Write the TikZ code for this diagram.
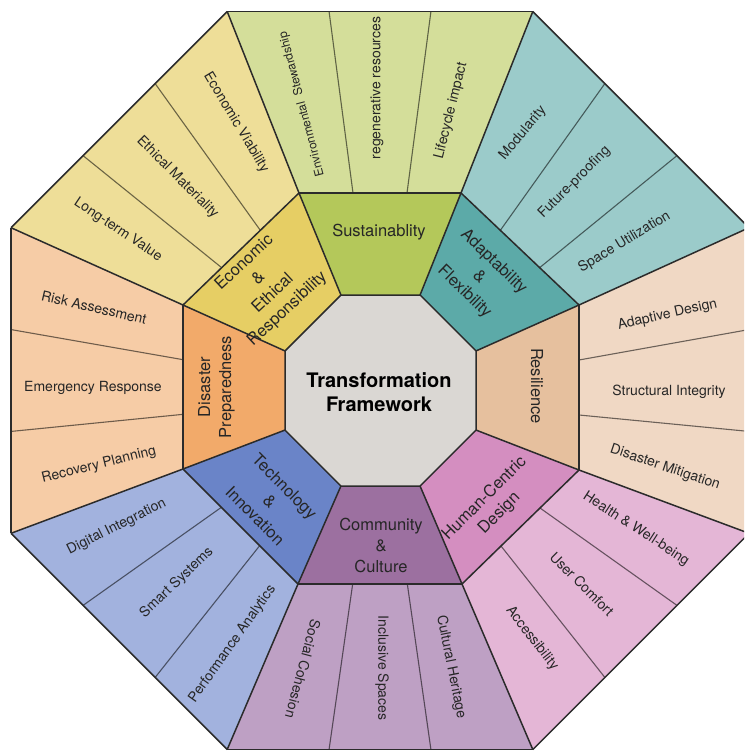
\documentclass[tikz,border=0pt]{standalone}
\usepackage{fontspec}
\setmainfont{TeX Gyre Heros}
\usetikzlibrary{calc}
\definecolor{edgec}{HTML}{2B2B2B}
\definecolor{txt}{HTML}{262626}
\definecolor{centergray}{HTML}{DAD7D3}
\definecolor{midS}{HTML}{B4C85A}\definecolor{outS}{HTML}{D4DE9A}
\definecolor{midE}{HTML}{E6CE64}\definecolor{outE}{HTML}{EEDE98}
\definecolor{midA}{HTML}{5CAAA8}\definecolor{outA}{HTML}{9BCBCA}
\definecolor{midR}{HTML}{E6C09E}\definecolor{outR}{HTML}{F0D8C4}
\definecolor{midH}{HTML}{D48EC0}\definecolor{outH}{HTML}{E4B6D6}
\definecolor{midC}{HTML}{9C70A0}\definecolor{outC}{HTML}{BEA0C4}
\definecolor{midT}{HTML}{6A84C8}\definecolor{outT}{HTML}{A2B2DE}
\definecolor{midD}{HTML}{F2AA6A}\definecolor{outD}{HTML}{F6CCA6}
\begin{document}
\begin{tikzpicture}[x=1pt,y=-1pt,
  edge/.style={draw=edgec, line width=1.5pt, line join=round},
  divider/.style={draw=black, draw opacity=0.55, line width=1.1pt},
  midlbl/.style={inner sep=0pt, align=center, text=txt, font=\fontsize{16.5}{21}\selectfont},
  outlbl/.style={inner sep=0pt, align=center, text=txt, font=\fontsize{14}{17}\selectfont},
  smalllbl/.style={inner sep=0pt, align=center, text=txt, font=\fontsize{12}{14}\selectfont},
  centerlbl/.style={inner sep=0pt, align=center, text=black, font=\fontsize{20}{24}\selectfont\bfseries}]
\fill[white] (0,0) rectangle (744,752);
\clip (0,0) rectangle (744,752);
% inner octagon
\coordinate (i1) at (420.06,295);   \coordinate (i2) at (476,350.94);
\coordinate (i3) at (476,430.06);   \coordinate (i4) at (420.06,486);
\coordinate (i5) at (340.94,486);   \coordinate (i6) at (285,430.06);
\coordinate (i7) at (285,350.94);   \coordinate (i8) at (340.94,295);
% middle octagon
\coordinate (m1) at (461,193); \coordinate (m2) at (579,305);
\coordinate (m3) at (579,470); \coordinate (m4) at (462,584);
\coordinate (m5) at (298,584); \coordinate (m6) at (183,469);
\coordinate (m7) at (183,305); \coordinate (m8) at (299,193);
% outer octagon
\coordinate (o1) at (532.8,11.5);  \coordinate (o2) at (749,227.7);
\coordinate (o3) at (749,533.3);   \coordinate (o4) at (532.8,749.5);
\coordinate (o5) at (227.2,749.5); \coordinate (o6) at (11,533.3);
\coordinate (o7) at (11,227.7);    \coordinate (o8) at (227.2,11.5);
% fills
\foreach \a/\b/\mc/\oc in {8/1/midS/outS,1/2/midA/outA,2/3/midR/outR,3/4/midH/outH,4/5/midC/outC,5/6/midT/outT,6/7/midD/outD,7/8/midE/outE}{
  \fill[fill=\mc] (i\a) -- (i\b) -- (m\b) -- (m\a) -- cycle;
  \fill[fill=\oc] (m\a) -- (m\b) -- (o\b) -- (o\a) -- cycle;
}
% dividers
\foreach \a/\b in {8/1,1/2,2/3,3/4,4/5,5/6,6/7,7/8}{
  \draw[divider] ($(m\a)!1/3!(m\b)$) -- ($(o\a)!1/3!(o\b)$);
  \draw[divider] ($(m\a)!2/3!(m\b)$) -- ($(o\a)!2/3!(o\b)$);
}
% edges
\foreach \a/\b in {8/1,1/2,2/3,3/4,4/5,5/6,6/7,7/8}{
  \draw[edge] (i\a) -- (m\a) -- (o\a);
  \draw[edge] (m\a) -- (m\b);
  \draw[edge] (o\a) -- (o\b);
}
% center
\filldraw[edge, fill=centergray] (i1) -- (i2) -- (i3) -- (i4) -- (i5) -- (i6) -- (i7) -- (i8) -- cycle;
\node[centerlbl] (core) at (379,392) {Transformation\\Framework};
% middle labels
\node[midlbl] (mS) at (379,232) {Sustainablity};
\node[midlbl, rotate=43] (mE) at (266,286) {Economic\\\&\\Ethical\\Responsibility};
\node[midlbl, rotate=-44] (mA) at (479,277) {Adaptability\\\&\\Flexibility};
\node[midlbl, rotate=-90] (mR) at (537,386) {Resilience};
\node[midlbl, rotate=45] (mH) at (492,506) {Human-Centric\\Design};
\node[midlbl] (mC) at (381,545) {Community\\\&\\Culture};
\node[midlbl, rotate=-45] (mT) at (270,501) {Technology\\\&\\Innovation};
\node[midlbl, rotate=90] (mD) at (216.5,387) {Disaster\\Preparedness};
% outer labels
\node[smalllbl, rotate=104.7] (oS1) at (302,104) {Environmental~~Stewardship};
\node[outlbl, rotate=90] (oS2) at (377,88) {regenerative resources};
\node[outlbl, rotate=76] (oS3) at (451,111) {Lifecycle impact};
\node[outlbl, rotate=50] (oA1) at (523,133) {Modularity};
\node[outlbl, rotate=45] (oA2) at (574.5,182.5) {Future-proofing};
\node[outlbl, rotate=31] (oA3) at (624.5,242) {Space Utilization};
\node[outlbl, rotate=12.7] (oR1) at (667.5,315) {Adaptive Design};
\node[outlbl] (oR2) at (669,392) {Structural Integrity};
\node[outlbl, rotate=-18.6] (oR3) at (665,467.5) {Disaster Mitigation};
\node[outlbl, rotate=-33] (oH1) at (636,529) {Health \& Well-being};
\node[outlbl, rotate=-45] (oH2) at (582,584) {User Comfort};
\node[outlbl, rotate=-52] (oH3) at (532,638.5) {Accessibility};
\node[outlbl, rotate=-78.7] (oC1) at (451,667) {Cultural Heritage};
\node[outlbl, rotate=-90] (oC2) at (382,668) {Inclusive Spaces};
\node[outlbl, rotate=-105] (oC3) at (303,669) {Social Cohesion};
\node[outlbl, rotate=54.7] (oT1) at (232.5,644) {Performance Analytics};
\node[outlbl, rotate=43.7] (oT2) at (176.7,582.7) {Smart Systems};
\node[outlbl, rotate=26.6] (oT3) at (116.7,527) {Digital Integration};
\node[outlbl, rotate=13.8] (oD1) at (99,465) {Recovery Planning};
\node[outlbl] (oD2) at (93,388) {Emergency Response};
\node[outlbl, rotate=-13] (oD3) at (94,307.5) {Risk Assessment};
\node[outlbl, rotate=-33.7] (oE1) at (118,230) {Long-term Value};
\node[outlbl, rotate=-45] (oE2) at (177.5,177.5) {Ethical Materiality};
\node[outlbl, rotate=-59] (oE3) at (236,122.5) {Economic Viability};
\end{tikzpicture}
\end{document}
